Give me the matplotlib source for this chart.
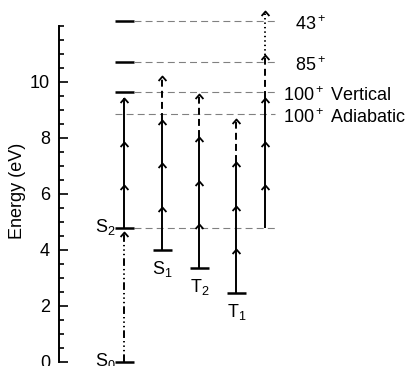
import matplotlib as mpl
import matplotlib.pyplot as plt
import numpy as np
from matplotlib.path import Path
from matplotlib.ticker import FixedLocator

mpl.rcParams['font.family'] = 'Liberation Sans'
mpl.rcParams['mathtext.fontset'] = 'custom'
mpl.rcParams['mathtext.rm'] = 'Liberation Sans'
mpl.rcParams['mathtext.it'] = 'Liberation Sans:italic'
mpl.rcParams['mathtext.bf'] = 'Liberation Sans:bold'
mpl.rcParams['lines.scale_dashes'] = False

FIG_W = 406
FIG_H = 366
DPI = 100
FONTSIZE = 13

# photon energies (eV)
PUMP = 4.65
PROBE = 1.55

# neutral states (eV)
state_names = ['S$_0$', 'S$_2$', 'S$_1$', 'T$_2$', 'T$_1$']
state_energy = [0.0, 4.77, 4.00, 3.37, 2.48]

# ion appearance thresholds (eV)
ion_names = ['43$^+$', '85$^+$', '100$^+$ Vertical', '100$^+$ Adiabatic']
ion_energy = [12.19, 10.70, 9.63, 8.84]

# probe ladders: starting state and line style of each photon
ladder_start = [4.77, 4.00, 3.37, 2.48, 4.77]
ladder_styles = [['-', '-', '-'],
                 ['-', '-', '-', '--'],
                 ['-', '-', '-', '--'],
                 ['-', '-', '-', '--'],
                 ['-', '-', '-', '--', ':']]

# energy axis ticks
major_ticks = [0, 2, 4, 6, 8, 10]
minor_ticks = list(np.arange(0, 12.01, 0.5))

# layout, x in pixels
col_x = [124.5, 124.5, 162.5, 199.5, 236.5]
ladder_x = [124.5, 162.5, 199.5, 236.5, 265]
BAR_HALF = 9.5
DASH_END = 275
ion_text_x = [295, 295, 283, 283]

LINESTYLES = {'-': '-',
              '--': (0, (5, 3)),
              ':': (0, (1, 2.2)),
              '-..': (0, (5.5, 2.2, 1, 2.2, 1, 2.2, 1, 2.2))}

chevron = Path([(-1.0, -1.15), (0.0, 0.0), (1.0, -1.15)],
               [Path.MOVETO, Path.LINETO, Path.LINETO])

fig = plt.figure(figsize=(FIG_W / DPI, FIG_H / DPI), dpi=DPI)
ax = fig.add_axes([59 / FIG_W, 0, 1 - 59 / FIG_W, 1])
ax.set_xlim(59, FIG_W)
ax.set_ylim(-4 / 28, 362 / 28)

for s in ['top', 'right', 'bottom']:
    ax.spines[s].set_visible(False)
ax.spines['left'].set_bounds(0, 12)
ax.spines['left'].set_linewidth(1.4)
ax.set_xticks([])
ax.yaxis.set_major_locator(FixedLocator(major_ticks))
ax.yaxis.set_minor_locator(FixedLocator(minor_ticks))
ax.tick_params(axis='y', which='major', direction='in', length=6.5, width=1.2,
               pad=6.5, labelsize=FONTSIZE)
ax.tick_params(axis='y', which='minor', direction='in', length=3.6, width=1.2)

fig.text(18 / FIG_W, 1 - 191 / FIG_H, 'Energy (eV)', rotation=90,
         ha='center', va='center', fontsize=FONTSIZE)


def arrow(x, y0, y1, style):
    ax.plot([x, x], [y0, y1], color='black', lw=1.4, ls=LINESTYLES[style],
            solid_capstyle='butt', clip_on=False)
    ax.plot([x], [y1], marker=chevron, ms=6.5, mfc='none', mec='black',
            mew=1.3, clip_on=False)


# ion thresholds
for i, (name, e) in enumerate(zip(ion_names, ion_energy)):
    x0 = col_x[0] - BAR_HALF
    if 'Adiabatic' not in name:
        ax.plot([x0, col_x[0] + BAR_HALF], [e, e], color='black', lw=1.8,
                solid_capstyle='butt', clip_on=False)
        x0 = col_x[0] + BAR_HALF
    ax.plot([x0, DASH_END], [e, e], color='#808080', lw=0.8,
            ls=LINESTYLES['--'], clip_on=False)
    ax.annotate(name, (ion_text_x[i], e), xytext=(0, -9),
                textcoords='offset pixels', ha='left', va='baseline',
                fontsize=FONTSIZE)

# S2 reference line
ax.plot([col_x[1] + BAR_HALF, DASH_END], [state_energy[1]] * 2,
        color='#808080', lw=0.8, ls=LINESTYLES['--'])

# neutral state bars and labels
for i, (name, e) in enumerate(zip(state_names, state_energy)):
    x = col_x[i]
    ax.plot([x - BAR_HALF, x + BAR_HALF], [e, e], color='black', lw=1.8,
            solid_capstyle='butt', clip_on=False)
    if i < 2:
        ax.annotate(name, (x - BAR_HALF, e), xytext=(1, 1),
                    textcoords='offset pixels', ha='right', va='center',
                    fontsize=FONTSIZE)
    else:
        ax.annotate(name, (x, e), xytext=(0, -9),
                    textcoords='offset pixels', ha='center', va='top',
                    fontsize=FONTSIZE)

# UV pump S0 -> S2
arrow(col_x[0], state_energy[0], state_energy[0] + PUMP, '-..')

# IR probe ladders
for x, e0, styles in zip(ladder_x, ladder_start, ladder_styles):
    for k, st in enumerate(styles):
        arrow(x, e0 + k * PROBE, e0 + (k + 1) * PROBE, st)

fig.savefig('out.png', dpi=DPI)
